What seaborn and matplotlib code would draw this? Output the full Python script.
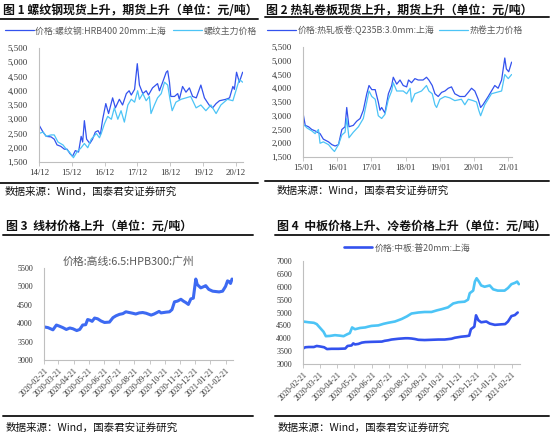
import pandas as pd
import numpy as np
import seaborn as sns
import matplotlib.pyplot as plt
import matplotlib.dates as mdates
from matplotlib.ticker import FuncFormatter, MultipleLocator

# ---- data ----
# fig 1: rebar spot (Shanghai) and rebar futures
rebar_spot_dates = ["2014-12-01", "2015-01-15", "2015-02-20", "2015-04-15", "2015-05-20", "2015-06-20",
                    "2015-08-01", "2015-09-10", "2015-10-10", "2015-11-10", "2015-12-10", "2016-01-10",
                    "2016-02-15", "2016-03-15", "2016-04-01", "2016-04-20", "2016-05-15", "2016-06-20",
                    "2016-07-20", "2016-08-20", "2016-09-20", "2016-10-15", "2016-11-10", "2016-12-15",
                    "2017-01-15", "2017-03-01", "2017-04-01", "2017-05-15", "2017-06-20", "2017-08-01",
                    "2017-09-01", "2017-09-25", "2017-11-01", "2017-12-01", "2017-12-25", "2018-02-01",
                    "2018-03-10", "2018-04-05", "2018-05-20", "2018-07-15", "2018-08-05", "2018-09-10",
                    "2018-10-20", "2018-11-05", "2018-11-25", "2018-12-10", "2019-01-20", "2019-02-25",
                    "2019-03-15", "2019-04-20", "2019-05-28", "2019-07-05", "2019-08-10", "2019-09-20",
                    "2019-11-10", "2019-12-20", "2020-02-10", "2020-03-20", "2020-04-28", "2020-06-05",
                    "2020-08-15", "2020-09-25", "2020-11-01", "2020-11-18", "2020-12-12", "2021-01-12",
                    "2021-02-18"]
rebar_spot = [2800, 2550, 2400, 2380, 2300, 2100,
              2050, 1950, 1950, 1800, 1700, 1900,
              1850, 2400, 2200, 2950, 2300, 2150,
              2300, 2550, 2600, 2450, 3000, 3550,
              3200, 3750, 3400, 3700, 3500, 3900,
              4000, 3850, 4050, 4950, 4200, 3900,
              4000, 3850, 4100, 4250, 4000, 4300,
              4650, 4700, 4300, 3800, 3800, 3900,
              3700, 4150, 3950, 4100, 3800, 3750,
              4200, 3750, 3500, 3400, 3550, 3650,
              3700, 3750, 4150, 4050, 4650, 4300,
              4650]

rebar_fut_dates = ["2014-12-01", "2015-01-15", "2015-02-20", "2015-04-15", "2015-05-20", "2015-07-01",
                   "2015-08-25", "2015-10-01", "2015-11-05", "2015-12-20", "2016-01-28", "2016-03-15",
                   "2016-04-20", "2016-05-28", "2016-07-05", "2016-09-01", "2016-10-05", "2016-10-25",
                   "2016-12-01", "2017-01-05", "2017-02-15", "2017-03-20", "2017-04-28", "2017-06-03",
                   "2017-07-10", "2017-08-18", "2017-09-25", "2017-11-01", "2017-12-05", "2017-12-25",
                   "2018-02-01", "2018-03-10", "2018-04-15", "2018-05-03", "2018-06-10", "2018-07-15",
                   "2018-08-25", "2018-10-01", "2018-11-05", "2018-12-01", "2018-12-25", "2019-02-05",
                   "2019-04-03", "2019-05-28", "2019-07-20", "2019-09-18", "2019-11-10", "2020-01-05",
                   "2020-03-01", "2020-04-28", "2020-06-20", "2020-09-01", "2020-11-01", "2020-12-05",
                   "2021-01-12", "2021-02-18"]
rebar_fut = [2500, 2550, 2400, 2450, 2450, 2200,
             2100, 1950, 1850, 1650, 1850, 2000,
             2150, 2000, 2300, 2500, 2350, 2500,
             2850, 3100, 3000, 3400, 3000, 3300,
             2900, 3500, 3700, 3600, 4000, 3700,
             3900, 3650, 3800, 3200, 3500, 3750,
             3900, 4300, 4200, 3700, 3300, 3600,
             3700, 3750, 3800, 3400, 3500, 3300,
             3500, 3200, 3500, 3700, 3650, 4000,
             4400, 4300]

# fig 2: hot rolled coil spot (Shanghai) and HRC futures
hrc_spot_dates = ["2015-01-01", "2015-01-25", "2015-03-01", "2015-04-05", "2015-05-10", "2015-07-02",
                  "2015-08-06", "2015-10-01", "2015-11-05", "2015-12-10", "2016-01-15", "2016-02-20",
                  "2016-03-25", "2016-04-12", "2016-05-06", "2016-06-21", "2016-07-27", "2016-09-02",
                  "2016-10-06", "2016-11-12", "2016-12-06", "2017-01-05", "2017-02-10", "2017-03-15",
                  "2017-04-02", "2017-04-20", "2017-05-25", "2017-07-01", "2017-08-05", "2017-08-22",
                  "2017-09-28", "2017-11-02", "2017-12-06", "2018-01-12", "2018-02-01", "2018-03-05",
                  "2018-04-10", "2018-05-15", "2018-07-06", "2018-08-12", "2018-09-06", "2018-10-12",
                  "2018-11-10", "2018-12-15", "2019-01-20", "2019-02-25", "2019-04-01", "2019-05-06",
                  "2019-06-10", "2019-08-03", "2019-09-25", "2019-11-01", "2019-12-06", "2020-01-10",
                  "2020-02-15", "2020-03-12", "2020-04-06", "2020-06-01", "2020-08-10", "2020-09-15",
                  "2020-10-22", "2020-11-25", "2020-12-12", "2021-01-06", "2021-02-06"]
hrc_spot = [3100, 2650, 2600, 2500, 2450, 2350,
            2150, 2050, 1950, 1900, 1950, 2500,
            2600, 3300, 2600, 2650, 2800, 2900,
            3200, 3800, 4100, 3950, 3950, 3500,
            3200, 3300, 3100, 3800, 4100, 4400,
            4150, 4300, 4100, 4050, 4300, 4200,
            4350, 4300, 4300, 4400, 4300, 4100,
            3800, 3700, 3850, 3900, 4000, 4050,
            3800, 3700, 3700, 3850, 4000, 3900,
            3600, 3300, 3400, 3700, 4100, 4000,
            4300, 5100, 4700, 4600, 4950]

hrc_fut_dates = ["2015-01-01", "2015-02-15", "2015-04-05", "2015-05-10", "2015-06-15", "2015-07-02",
                 "2015-08-06", "2015-10-01", "2015-11-05", "2015-12-03", "2016-01-15", "2016-02-20",
                 "2016-03-25", "2016-04-12", "2016-05-06", "2016-06-21", "2016-08-15", "2016-10-06",
                 "2016-11-12", "2016-12-06", "2017-01-05", "2017-02-10", "2017-03-15", "2017-04-20",
                 "2017-05-25", "2017-07-01", "2017-08-05", "2017-08-22", "2017-09-28", "2017-11-02",
                 "2017-12-06", "2018-01-12", "2018-02-18", "2018-03-05", "2018-04-10", "2018-06-20",
                 "2018-08-12", "2018-09-06", "2018-10-12", "2018-11-10", "2018-11-28", "2019-01-02",
                 "2019-02-25", "2019-04-18", "2019-06-10", "2019-08-20", "2019-09-25", "2019-11-01",
                 "2019-12-22", "2020-01-28", "2020-02-21", "2020-03-12", "2020-04-25", "2020-07-06",
                 "2020-08-28", "2020-10-22", "2020-11-25", "2021-01-01", "2021-02-06"]
hrc_fut = [2700, 2550, 2450, 2350, 2500, 2000,
           2050, 1950, 1800, 1700, 1950, 2300,
           2400, 2900, 2200, 2400, 2600, 2900,
           3500, 3900, 3700, 3600, 3000, 2900,
           3050, 3600, 3900, 4200, 3900, 3900,
           3900, 3800, 4000, 3500, 3800, 3900,
           4100, 3900, 3800, 3400, 3300, 3600,
           3700, 3650, 3550, 3600, 3400, 3600,
           3550, 3500, 3200, 3000, 3400, 3800,
           3850, 3900, 4500, 4350, 4500]

# fig 3: wire rod, Guangzhou
wire_dates = ["2020-02-21", "2020-02-29", "2020-03-10", "2020-03-17", "2020-03-23", "2020-03-30",
              "2020-04-06", "2020-04-13", "2020-04-19", "2020-04-27", "2020-05-03", "2020-05-09",
              "2020-05-15", "2020-05-19", "2020-05-24", "2020-05-28", "2020-06-02", "2020-06-08",
              "2020-06-15", "2020-06-22", "2020-07-02", "2020-07-09", "2020-07-15", "2020-07-22",
              "2020-07-29", "2020-08-04", "2020-08-11", "2020-08-18", "2020-08-24", "2020-08-31",
              "2020-09-07", "2020-09-14", "2020-09-24", "2020-09-30", "2020-10-10", "2020-10-14",
              "2020-10-24", "2020-10-31", "2020-11-05", "2020-11-10", "2020-11-16", "2020-11-23",
              "2020-11-28", "2020-12-03", "2020-12-08", "2020-12-13", "2020-12-18", "2020-12-23",
              "2020-12-26", "2021-01-02", "2021-01-09", "2021-01-12", "2021-01-18", "2021-01-26",
              "2021-02-08", "2021-02-15", "2021-02-21", "2021-02-25", "2021-02-28", "2021-03-03",
              "2021-03-06"]
wire_price = [3900, 3880, 3820, 3950, 3920, 3880,
              3830, 3870, 3850, 3800, 3830, 3950,
              3960, 4100, 4080, 4050, 4140, 4120,
              4060, 4020, 4030, 4150, 4200, 4240,
              4260, 4310, 4290, 4270, 4250, 4280,
              4290, 4270, 4220, 4250, 4320, 4280,
              4300, 4310, 4370, 4580, 4600, 4650,
              4600, 4560, 4510, 4660, 4680, 5200,
              5050, 4960, 5000, 5020, 4920, 4870,
              4850, 4870, 5000, 5150, 5130, 5080,
              5200]

# fig 4: medium plate (Shanghai) and cold rolled coil
plate_dates = ["2020-02-21", "2020-02-25", "2020-03-02", "2020-03-11", "2020-03-16", "2020-03-22",
               "2020-03-29", "2020-04-03", "2020-04-11", "2020-04-23", "2020-05-05", "2020-05-09",
               "2020-05-16", "2020-05-19", "2020-05-22", "2020-05-28", "2020-06-03", "2020-06-09",
               "2020-06-20", "2020-07-08", "2020-07-13", "2020-07-19", "2020-07-25", "2020-08-06",
               "2020-08-18", "2020-08-23", "2020-08-29", "2020-09-04", "2020-09-10", "2020-09-21",
               "2020-10-03", "2020-10-15", "2020-10-26", "2020-11-07", "2020-11-13", "2020-11-24",
               "2020-12-03", "2020-12-08", "2020-12-11", "2020-12-17", "2020-12-20", "2020-12-24",
               "2020-12-29", "2021-01-07", "2021-01-13", "2021-01-22", "2021-02-02", "2021-02-09",
               "2021-02-14", "2021-02-20", "2021-02-26", "2021-03-03"]
plate_price = [3600, 3650, 3660, 3660, 3700, 3680,
               3650, 3580, 3590, 3590, 3600, 3700,
               3720, 3800, 3760, 3780, 3830, 3850,
               3860, 3870, 3900, 3920, 3950, 3980,
               4000, 4000, 3990, 3970, 3940, 3930,
               3940, 3950, 3950, 3980, 4020, 4060,
               4080, 4100, 4350, 4450, 4890, 4700,
               4620, 4650, 4570, 4520, 4540, 4550,
               4650, 4860, 4900, 5000]

cold_dates = ["2020-02-21", "2020-03-02", "2020-03-11", "2020-03-16", "2020-03-22", "2020-03-28",
              "2020-04-01", "2020-04-08", "2020-04-17", "2020-04-26", "2020-05-02", "2020-05-08",
              "2020-05-13", "2020-05-17", "2020-05-22", "2020-05-31", "2020-06-09", "2020-06-14",
              "2020-06-20", "2020-07-02", "2020-07-11", "2020-07-19", "2020-07-31", "2020-08-12",
              "2020-08-21", "2020-08-29", "2020-09-10", "2020-09-21", "2020-10-03", "2020-10-12",
              "2020-10-21", "2020-11-01", "2020-11-10", "2020-11-19", "2020-11-30", "2020-12-06",
              "2020-12-09", "2020-12-15", "2020-12-18", "2020-12-21", "2020-12-25", "2020-12-29",
              "2021-01-04", "2021-01-13", "2021-01-19", "2021-01-27", "2021-02-08", "2021-02-14",
              "2021-02-20", "2021-02-26", "2021-03-02", "2021-03-05"]
cold_price = [4650, 4620, 4600, 4550, 4400, 4250,
              4080, 4090, 4120, 4100, 4080, 4150,
              4200, 4420, 4350, 4400, 4420, 4450,
              4480, 4500, 4560, 4600, 4650, 4750,
              4850, 4960, 5000, 5020, 5020, 5080,
              5130, 5200, 5350, 5400, 5420, 5500,
              5750, 5850, 6200, 6330, 6200, 6050,
              6000, 6050, 5900, 5850, 5850, 5950,
              6100, 6150, 6200, 6100]

dark_blue = "#3352ee"
light_blue = "#4cc4f6"
grey_txt = "#595959"

sns.set_theme(style="white")
plt.rcParams['font.family'] = ['Noto Sans CJK SC', 'DejaVu Sans']

W, H = 550, 438
fig = plt.figure(figsize=(5.5, 4.38), dpi=100)


def ax_px(l, t, r, b):
    return fig.add_axes([l / W, 1 - b / H, (r - l) / W, (b - t) / H])


def rule(x0, x1, y, lw=1.2):
    fig.add_artist(plt.Line2D([x0 / W, x1 / W], [1 - y / H, 1 - y / H], color="#222222", lw=lw))


def style_axes(ax, fmt_comma, size=6.3):
    sns.despine(ax=ax)
    for s in ["left", "bottom"]:
        ax.spines[s].set_color("#bfbfbf")
        ax.spines[s].set_linewidth(0.8)
    ax.tick_params(axis="x", which="both", bottom=True, length=3, width=0.6, color="#bfbfbf",
                   labelsize=size, pad=2, labelcolor="#333333", labelfontfamily="Liberation Serif")
    ax.tick_params(axis="y", left=False, labelsize=size, pad=2, labelcolor="#333333",
                   labelfontfamily="Liberation Serif")
    if fmt_comma:
        ax.yaxis.set_major_formatter(FuncFormatter(lambda v, p: f"{int(v):,}"))
    ax.set_xlabel("")
    ax.set_ylabel("")
    ax.grid(False)


title_kw = dict(fontsize=8.6, fontweight="bold", color="#111111", va="center")
src_kw = dict(fontsize=7.6, color="#111111", va="center")
src = "数据来源：Wind，国泰君安证券研究"

# ---------- panel 1 ----------
ax1 = ax_px(39, 48, 243, 162)
sns.lineplot(x=pd.to_datetime(rebar_spot_dates), y=rebar_spot, ax=ax1, color=dark_blue, lw=0.9,
             label="价格:螺纹钢:HRB400 20mm:上海")
sns.lineplot(x=pd.to_datetime(rebar_fut_dates), y=rebar_fut, ax=ax1, color=light_blue, lw=0.9,
             label="螺纹主力价格")
ax1.set_ylim(1500, 5500)
ax1.yaxis.set_major_locator(MultipleLocator(500))
ax1.set_xlim(pd.Timestamp("2014-12-01"), pd.Timestamp("2021-02-22"))
ax1.set_xticks(pd.to_datetime([f"{y}-12-01" for y in range(2014, 2021)]))
ax1.xaxis.set_major_formatter(mdates.DateFormatter("%y/%m"))
style_axes(ax1, True)
ax1.legend(loc="center", bbox_to_anchor=(131 / W, 1 - 31 / H), bbox_transform=fig.transFigure,
           ncol=2, frameon=False, fontsize=6.4, handlelength=3.2, columnspacing=0.8,
           handletextpad=0.2, labelcolor=grey_txt)
fig.text(3 / W, 1 - 10 / H, "图 1 螺纹钢现货上升，期货上升（单位：元/吨）", **title_kw)
rule(0, 258, 19, 1.4)
rule(0, 258, 183, 1.4)
fig.text(5 / W, 1 - 192 / H, src, **src_kw)

# ---------- panel 2 ----------
ax2 = ax_px(303, 47, 512, 157)
sns.lineplot(x=pd.to_datetime(hrc_spot_dates), y=hrc_spot, ax=ax2, color=dark_blue, lw=0.9,
             label="价格:热轧板卷:Q235B:3.0mm:上海")
sns.lineplot(x=pd.to_datetime(hrc_fut_dates), y=hrc_fut, ax=ax2, color=light_blue, lw=0.9,
             label="热卷主力价格")
ax2.set_ylim(1500, 5500)
ax2.yaxis.set_major_locator(MultipleLocator(500))
ax2.set_xlim(pd.Timestamp("2015-01-01"), pd.Timestamp("2021-02-10"))
ax2.set_xticks(pd.to_datetime([f"{y}-01-01" for y in range(2015, 2022)]))
ax2.xaxis.set_major_formatter(mdates.DateFormatter("%y/%m"))
style_axes(ax2, True)
ax2.legend(loc="center", bbox_to_anchor=(395 / W, 1 - 30 / H), bbox_transform=fig.transFigure,
           ncol=2, frameon=False, fontsize=6.4, handlelength=3.2, columnspacing=0.6,
           handletextpad=0.2, labelcolor=grey_txt)
fig.text(266 / W, 1 - 10 / H, "图 2 热轧卷板现货上升，期货上升（单位：元/吨）", **title_kw)
rule(265, 549, 17, 1.4)
rule(265, 549, 181, 1.4)
fig.text(277 / W, 1 - 191 / H, src, **src_kw)

# ---------- panel 3 ----------
month_ticks = pd.date_range("2020-02-01", "2021-02-21", freq="MS") + pd.Timedelta(days=20)
ax3 = ax_px(44, 268, 233, 360)
sns.lineplot(x=pd.to_datetime(wire_dates), y=wire_price, ax=ax3, color="#3d6af2", lw=2.2, legend=False)
ax3.set_ylim(3000, 5500)
ax3.yaxis.set_major_locator(MultipleLocator(500))
ax3.set_xlim(pd.Timestamp("2020-02-21"), pd.Timestamp("2021-03-08"))
ax3.set_xticks(month_ticks)
ax3.xaxis.set_major_formatter(mdates.DateFormatter("%Y-%m-%d"))
style_axes(ax3, False, 5.8)
plt.setp(ax3.get_xticklabels(), rotation=45, ha="right", rotation_mode="anchor")
fig.text(128 / W, 1 - 262 / H, "价格:高线:6.5:HPB300:广州", fontsize=7.8, color=grey_txt,
         ha="center", va="center")
fig.text(6 / W, 1 - 226 / H, "图 3  线材价格上升（单位：元/吨）", **title_kw)
rule(3, 253, 235, 1.4)
rule(3, 253, 416, 1.4)
fig.text(6 / W, 1 - 428 / H, src, **src_kw)

# ---------- panel 4 ----------
ax4 = ax_px(303, 261, 520, 364)
sns.lineplot(x=pd.to_datetime(plate_dates), y=plate_price, ax=ax4, color=dark_blue, lw=1.9,
             label="价格:中板:普20mm:上海")
sns.lineplot(x=pd.to_datetime(cold_dates), y=cold_price, ax=ax4, color=light_blue, lw=1.9)
ax4.set_ylim(3000, 7000)
ax4.yaxis.set_major_locator(MultipleLocator(500))
ax4.set_xlim(pd.Timestamp("2020-02-21"), pd.Timestamp("2021-03-07"))
ax4.set_xticks(month_ticks)
ax4.xaxis.set_major_formatter(mdates.DateFormatter("%Y-%m-%d"))
style_axes(ax4, False, 5.8)
plt.setp(ax4.get_xticklabels(), rotation=45, ha="right", rotation_mode="anchor")
ax4.legend(loc="center", bbox_to_anchor=(407 / W, 1 - 248 / H), bbox_transform=fig.transFigure,
           frameon=False, fontsize=6.4, handlelength=3.2, handletextpad=0.2, labelcolor=grey_txt)
fig.text(277 / W, 1 - 226 / H, "图 4  中板价格上升、冷卷价格上升（单位：元/吨）", **title_kw)
rule(275, 549, 235, 1.4)
rule(275, 549, 416, 1.4)
fig.text(278 / W, 1 - 428 / H, src, **src_kw)

fig.savefig("out.png", dpi=100)
